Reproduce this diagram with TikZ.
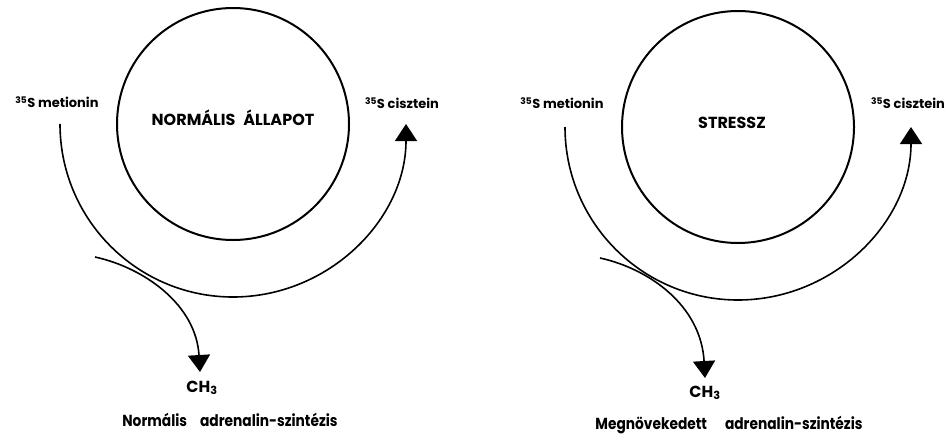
\documentclass[tikz,border=0pt]{standalone}
\usepackage{graphicx}
\usepackage{fontspec}
\setmainfont{Poppins}
\usetikzlibrary{calc,positioning,arrows.meta}
\newcommand{\condtext}[1]{\scalebox{0.86}[1]{#1}}

\begin{document}
\begin{tikzpicture}[
  x=1pt, y=-1pt,
  every node/.style={font=\fontsize{13}{15}\selectfont\bfseries, inner sep=1pt},
  big/.style={font=\fontsize{16}{18}\selectfont\bfseries},
  caption/.style={font=\fontsize{16}{18}\selectfont\bfseries},
  cycle/.style={circle, draw, line width=2pt, minimum size=232pt, inner sep=0pt},
  flow/.style={line width=1.6pt, -{Triangle[length=17pt,width=22pt]}},
  >=latex
]
\useasboundingbox (0,0) rectangle (950,434);

% --- normal state ---
\begin{scope}[shift={(0,0)}]
\node[cycle] (c) at (233,124) {};
\node[big] (state) at (233,118) {NORMÁLIS\hspace{0.5em}ÁLLAPOT};
\node (met) at (57,102) {\textsuperscript{35}S metionin};
\node (cys) at (402,103) {\textsuperscript{35}S cisztein};
\node[big] (ch3) at (202,388) {CH\textsubscript{3}};
\node[caption] (syn) at (230,420) {\condtext{Normális}\hspace{13pt}\condtext{adrenalin-szintézis}};
\coordinate (m) at ($(c)+(-173,0)$);
\coordinate (b) at (95,257);
\coordinate (t) at (200,372);
\draw[flow] (m) arc[start angle=180, end angle=0, radius=173];
\draw[flow] (b) .. controls (145,268) and (196,305) .. (t);
\end{scope}

% --- stress ---
\begin{scope}[shift={(505,3)}]
\node[cycle] (c) at (233,124) {};
\node[big] (state) at (227,120) {STRESSZ};
\node (met) at (57,100) {\textsuperscript{35}S metionin};
\node (cys) at (403,100) {\textsuperscript{35}S cisztein};
\node[big] (ch3) at (200,390) {CH\textsubscript{3}};
\node[caption] (syn) at (224,422) {\condtext{Megnövekedett}\hspace{18pt}\condtext{adrenalin-szintézis}};
\coordinate (m) at ($(c)+(-173,0)$);
\coordinate (b) at (95,255);
\coordinate (t) at (200,375);
\draw[flow] (m) arc[start angle=180, end angle=0, radius=173];
\draw[flow] (b) .. controls (145,266) and (196,303) .. (t);
\end{scope}

\end{tikzpicture}
\end{document}
